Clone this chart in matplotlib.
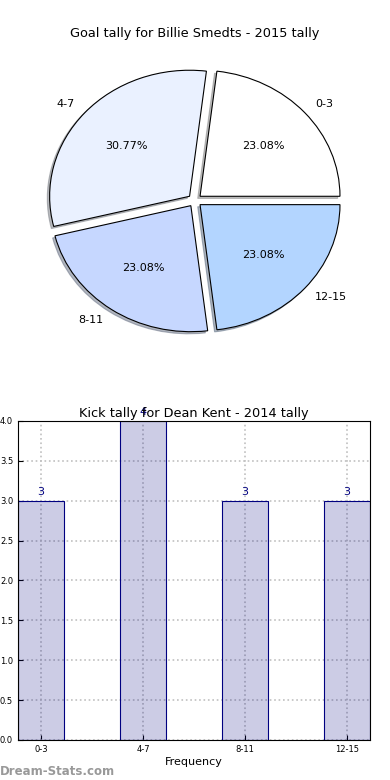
import numpy as np
import matplotlib.pyplot as plt

# data
pie_labels = ["0-3", "4-7", "8-11", "12-15"]
pie_values = [3, 4, 3, 3]
pie_colors = ["#ffffff", "#eaf1ff", "#c6d7ff", "#b3d5ff"]

bar_labels = ["0-3", "4-7", "8-11", "12-15"]
bar_values = [3, 4, 3, 3]

fig = plt.figure(figsize=(3.9, 7.8), dpi=100)

# pie
ax1 = fig.add_axes([0.051, 0.541, 0.897, 0.404])
wedges, texts, autotexts = ax1.pie(pie_values, labels=pie_labels, colors=pie_colors,
                                   explode=[0.05] * 4,
                                   shadow=dict(ox=-0.012, oy=-0.012, shade=0.5),
                                   autopct="%1.2f%%",
                                   wedgeprops=dict(edgecolor="black", linewidth=0.8),
                                   textprops=dict(fontsize=8))
ax1.set_aspect("auto")
ax1.set_xlim(-1.25, 1.25)
ax1.set_ylim(-1.25, 1.25)
ax1.set_title("Goal tally for Billie Smedts - 2015 tally", fontsize=9.3, pad=4)

# bars
ax2 = fig.add_axes([0.046, 0.0513, 0.903, 0.409])
x = np.arange(len(bar_values)) * 2
ax2.bar(x, bar_values, width=0.9, facecolor=("navy", 0.2), edgecolor="navy",
        linewidth=0.8, zorder=2)
for xi, v in zip(x, bar_values):
    ax2.text(xi, v + 0.05, str(v), ha="center", va="bottom", color="navy", fontsize=8)
ax2.set_xlim(-0.45, 6.45)
ax2.set_ylim(0, 4)
ax2.set_xticks(x)
ax2.set_xticklabels(bar_labels)
ax2.set_yticks(np.arange(0, 4.01, 0.5))
ax2.tick_params(labelsize=6, direction="in")
ax2.grid(True, linestyle=":", color="#c0c0c0", linewidth=1.2, zorder=0)
ax2.set_axisbelow(True)
ax2.set_xlabel("Frequency", fontsize=8, labelpad=2)
ax2.set_title("Kick tally for Dean Kent - 2014 tally", fontsize=9.3, pad=3)

fig.text(0.0, 0.007, "Dream-Stats.com", color="#999999", fontsize=8.5, fontweight="bold")

fig.savefig("out.png", dpi=100)
